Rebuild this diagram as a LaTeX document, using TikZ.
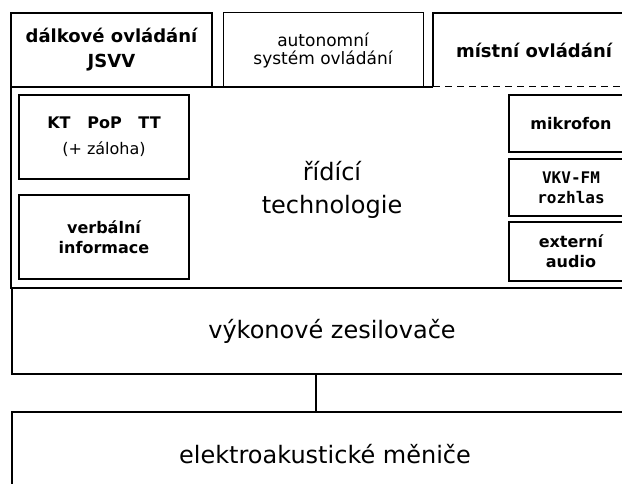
\documentclass[tikz,border=0pt]{standalone}
\usepackage{fontspec}
\setmainfont{DejaVu Sans}
\newfontfamily\monofont{DejaVu Sans Mono}
\usetikzlibrary{calc}

\begin{document}
\begin{tikzpicture}[x=1pt,y=-1pt,
  box/.style={draw,line width=2pt,anchor=north west,inner sep=0pt,outer sep=0pt,align=center},
  thinbox/.style={box,line width=1pt},
  plainbox/.style={box,draw=none},
  toptxt/.style={font=\fontsize{18}{25}\selectfont\bfseries},
  smalltxt/.style={font=\fontsize{16}{20}\selectfont\bfseries},
  bigtxt/.style={font=\fontsize{24}{33}\selectfont}]
\useasboundingbox (0,0) rectangle (622,484);
\clip (0,0) rectangle (622,484);
% horni rada
\node[box,toptxt,minimum width=201pt,minimum height=74pt] (remote) at (11,13) {dálkové ovládání\\JSVV};
\node[thinbox,font=\fontsize{17}{18}\selectfont,minimum width=200pt,minimum height=74pt] (auto) at (223,13) {autonomní\\systém ovládání};
\node[plainbox,toptxt,minimum width=202pt,minimum height=74pt] (local) at (433,13) {místní ovládání};
\draw[line width=2pt] (local.south west) -- (local.north west) -- (local.north east);
\draw[line width=1pt,dash pattern=on 7pt off 5pt] (local.south west) -- (local.south east);
% ridici technologie
\node[plainbox,bigtxt,minimum width=642pt,minimum height=206pt] (ctrl) at (11,87) {řídící\\technologie};
\draw[line width=2pt] (local.south west) -- (ctrl.north west) -- (ctrl.south west |- 0,288) -- (ctrl.south east |- 0,288);
\node[box,smalltxt,minimum width=170pt,minimum height=84pt] (kt) at (19,95) {KT\ \ \ PoP\ \ \ TT\\[6pt]{\mdseries (+ záloha)}};
\node[box,smalltxt,minimum width=170pt,minimum height=84pt] (verbal) at (19,195) {verbální\\informace};
\node[box,smalltxt,minimum width=124pt,minimum height=57pt] (mic) at (509,95) {mikrofon};
\node[box,smalltxt,minimum width=124pt,minimum height=57pt] (fm) at (509,159) {\monofont VKV-FM\\\monofont rozhlas};
\node[box,smalltxt,minimum width=124pt,minimum height=59pt] (ext) at (509,222) {externí\\audio};
% zesilovace a menice
\node[box,bigtxt,minimum width=640pt,minimum height=86pt] (amp) at (12,288) {výkonové zesilovače};
\node[box,bigtxt,minimum width=626pt,minimum height=84pt] (spk) at (12,412) {elektroakustické měniče};
\coordinate (tap) at (316,0);
\draw[line width=2pt] (tap |- amp.south) -- (tap |- spk.north);
\end{tikzpicture}
\end{document}
